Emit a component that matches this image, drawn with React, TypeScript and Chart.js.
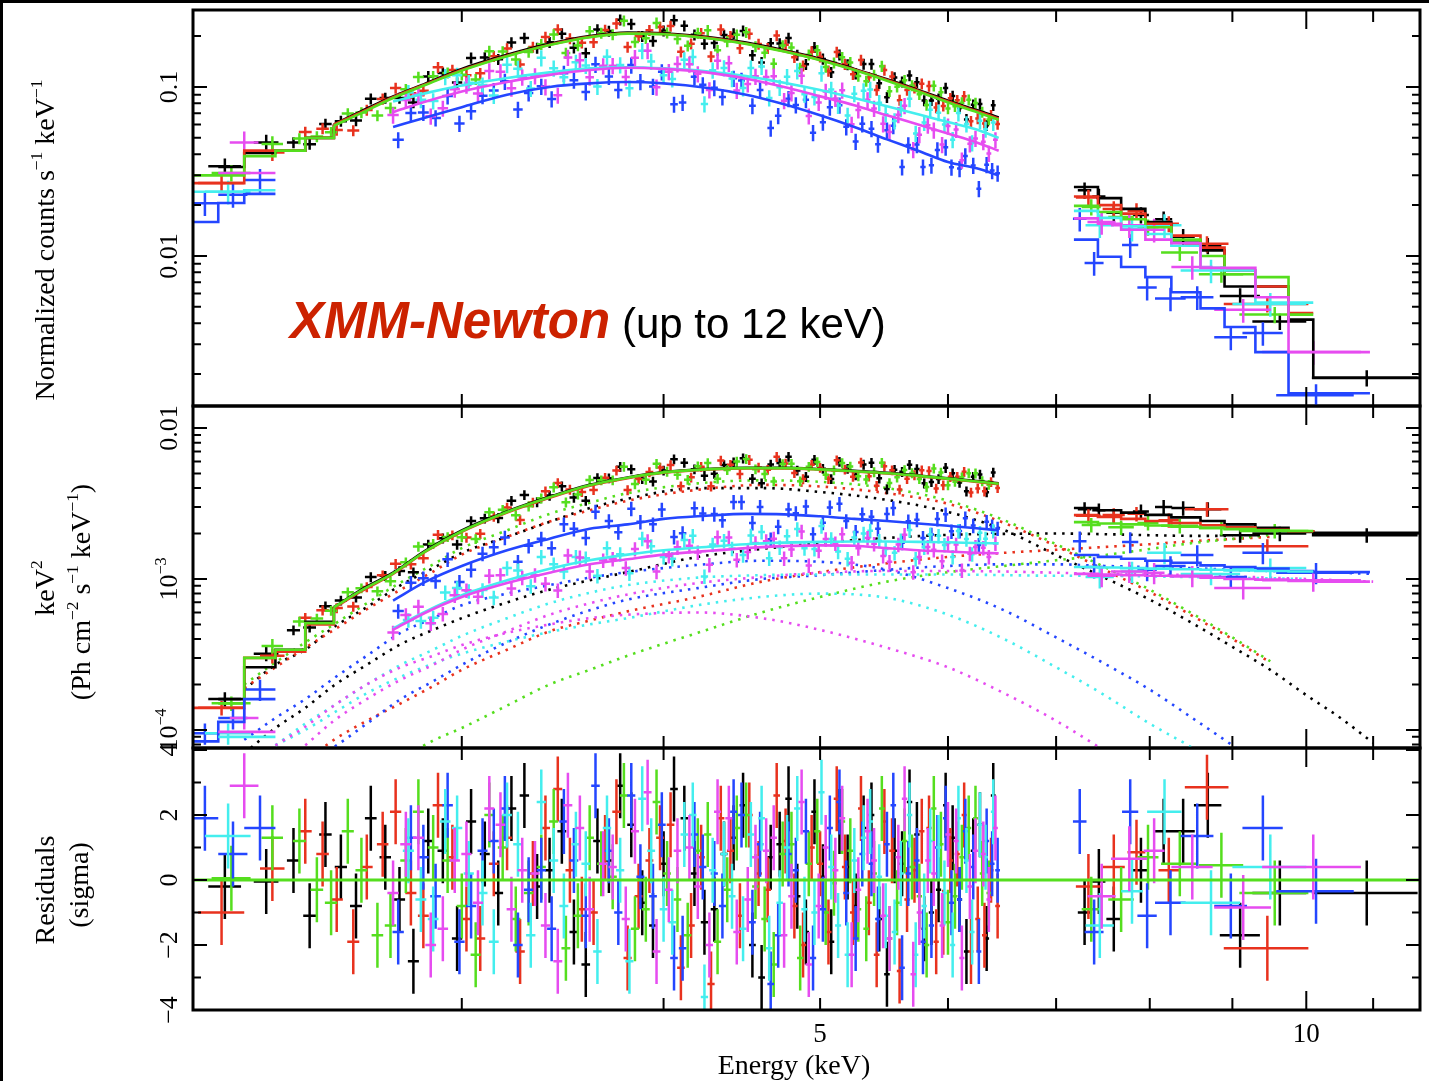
import React, { useEffect, useRef } from "react";
import { Chart, registerables } from "chart.js";

Chart.register(...registerables);

// ---------------- axis ranges / ticks ----------------
const X_MIN = 2.045;
const X_MAX = 11.76;
const X_TICKS_MINOR = [3, 4, 5, 6, 7, 8, 9, 11];
const X_TICKS_MAJOR = [10];
const X_TICK_LABELS = [5, 10];

const TOP_Y_MIN = 0.001295;
const TOP_Y_MAX = 0.2855;
const TOP_Y_MAJOR = [0.01, 0.1];
const TOP_Y_MINOR = [0.002, 0.003, 0.004, 0.005, 0.006, 0.007, 0.008, 0.009, 0.02, 0.03, 0.04, 0.05, 0.06, 0.07, 0.08, 0.09, 0.2];

const MID_Y_MIN = 7.59e-5;
const MID_Y_MAX = 0.01399;
const MID_Y_MAJOR = [1e-4, 1e-3, 1e-2];
const MID_Y_MINOR = [8e-5, 9e-5, 2e-4, 3e-4, 4e-4, 5e-4, 6e-4, 7e-4, 8e-4, 9e-4, 2e-3, 3e-3, 4e-3, 5e-3, 6e-3, 7e-3, 8e-3, 9e-3];

const RES_Y_MIN = -4;
const RES_Y_MAX = 4.06;
const RES_Y_MAJOR = [-4, -2, 0, 2, 4];
const RES_Y_MINOR = [-3, -1, 1, 3];

// ---------------- model grid (keV) ----------------
const MODEL_E = [2.04, 2.12, 2.2, 2.3, 2.4, 2.5, 2.6, 2.72, 2.85, 3.0, 3.2, 3.4, 3.6, 3.8, 4.0, 4.25, 4.5, 4.75, 5.0, 5.25, 5.5, 5.75, 6.0, 6.25, 6.45, 6.8, 7.18, 7.43, 7.68, 7.95, 8.25, 8.6, 8.9, 9.3, 9.75, 10.1, 10.95, 11.77];
const SMOOTH_FROM = 2.5;
const SMOOTH_TO = 6.45;

const BLACK_MODEL_COUNTS = [null, 0.0336, 0.0407, 0.042, 0.05, 0.06, 0.072, 0.088, 0.105, 0.128, 0.155, 0.18, 0.2, 0.21, 0.208, 0.198, 0.183, 0.165, 0.147, 0.128, 0.111, 0.096, 0.083, 0.073, 0.066, null, 0.0256, 0.022, 0.019, 0.0159, 0.0124, 0.0108, 0.0066, 0.0066, 0.0042, 0.0019, 0.0019, 0.0019];
const RED_MODEL_COUNTS = [0.027, 0.027, 0.042, 0.042, 0.05, 0.06, 0.071, 0.087, 0.104, 0.126, 0.153, 0.178, 0.198, 0.208, 0.206, 0.196, 0.181, 0.163, 0.145, 0.127, 0.11, 0.095, 0.082, 0.072, 0.065, null, 0.0225, 0.02, 0.0178, 0.0155, 0.0132, 0.0112, 0.0082, 0.0066, 0.0046, 0.0046, null, null];
const GREEN_MODEL_COUNTS = [0.03, 0.03, 0.039, 0.042, 0.05, 0.059, 0.07, 0.086, 0.103, 0.125, 0.152, 0.177, 0.197, 0.207, 0.205, 0.195, 0.18, 0.162, 0.144, 0.126, 0.109, 0.094, 0.081, 0.071, 0.064, null, 0.0198, 0.0182, 0.0165, 0.0148, 0.0125, 0.01, 0.0078, 0.0075, 0.0045, 0.0045, null, null];
const BLUE_MODEL_COUNTS = [0.0159, 0.0206, 0.0233, 0.0233, null, null, null, 0.058, 0.066, 0.076, 0.09, 0.1, 0.105, 0.107, 0.105, 0.099, 0.09, 0.079, 0.068, 0.058, 0.049, 0.042, 0.036, 0.033, 0.03, null, 0.0125, 0.0099, 0.0086, 0.0075, 0.0061, 0.0049, 0.0038, 0.0027, 0.00154, 0.00154, 0.00154, null];
const CYAN_MODEL_COUNTS = [0.024, 0.024, 0.0245, 0.0245, null, null, null, 0.082, 0.092, 0.102, 0.113, 0.122, 0.129, 0.131, 0.129, 0.124, 0.116, 0.106, 0.096, 0.086, 0.077, 0.069, 0.062, 0.056, 0.05, null, 0.0185, 0.0168, 0.015, 0.0135, 0.0115, 0.0085, 0.0082, 0.0053, 0.0053, 0.0053, null, null];
const MAGENTA_MODEL_COUNTS = [null, 0.031, 0.031, 0.031, null, null, null, 0.071, 0.082, 0.094, 0.107, 0.118, 0.126, 0.13, 0.128, 0.122, 0.112, 0.1, 0.088, 0.078, 0.068, 0.06, 0.053, 0.047, 0.042, null, 0.0167, 0.0155, 0.0143, 0.0125, 0.0119, 0.0085, 0.0085, 0.0057, 0.0027, 0.0027, 0.0027, null];

const BLACK_MODEL_UNFOLD = [null, 1.6e-4, 2.6e-4, 3.4e-4, 5.2e-4, 6.5e-4, 8.5e-4, 1.1e-3, 1.55e-3, 2.1e-3, 2.8e-3, 3.5e-3, 4.2e-3, 4.7e-3, 5.1e-3, 5.35e-3, 5.45e-3, 5.45e-3, 5.35e-3, 5.2e-3, 5.05e-3, 4.85e-3, 4.65e-3, 4.45e-3, 4.3e-3, null, 2.95e-3, 2.85e-3, 2.75e-3, 2.66e-3, 2.56e-3, 2.42e-3, 2.3e-3, 2.18e-3, 2.05e-3, 2.02e-3, 2.02e-3, 2.02e-3];
const RED_MODEL_UNFOLD = [1.4e-4, 1.4e-4, 3.0e-4, 3.3e-4, 5.0e-4, 6.4e-4, 8.3e-4, 1.08e-3, 1.52e-3, 2.05e-3, 2.75e-3, 3.45e-3, 4.15e-3, 4.65e-3, 5.05e-3, 5.3e-3, 5.4e-3, 5.4e-3, 5.3e-3, 5.15e-3, 5.0e-3, 4.8e-3, 4.6e-3, 4.4e-3, 4.25e-3, null, 2.65e-3, 2.58e-3, 2.5e-3, 2.42e-3, 2.35e-3, 2.27e-3, 2.2e-3, 2.12e-3, 2.07e-3, 2.05e-3, null, null];
const GREEN_MODEL_UNFOLD = [null, 1.5e-4, 3.0e-4, 3.4e-4, 5.1e-4, 6.5e-4, 8.4e-4, 1.09e-3, 1.53e-3, 2.07e-3, 2.78e-3, 3.48e-3, 4.18e-3, 4.68e-3, 5.08e-3, 5.32e-3, 5.42e-3, 5.42e-3, 5.32e-3, 5.17e-3, 5.02e-3, 4.82e-3, 4.62e-3, 4.42e-3, 4.27e-3, null, 2.38e-3, 2.33e-3, 2.3e-3, 2.26e-3, 2.22e-3, 2.18e-3, 2.14e-3, 2.1e-3, 2.08e-3, 2.08e-3, null, null];
const BLUE_MODEL_UNFOLD = [8.4e-5, 1.13e-4, 1.6e-4, 1.6e-4, null, null, null, 7.2e-4, 9.6e-4, 1.22e-3, 1.55e-3, 1.85e-3, 2.15e-3, 2.3e-3, 2.5e-3, 2.62e-3, 2.7e-3, 2.68e-3, 2.6e-3, 2.5e-3, 2.42e-3, 2.33e-3, 2.25e-3, 2.17e-3, 2.1e-3, null, 1.44e-3, 1.4e-3, 1.36e-3, 1.32e-3, 1.28e-3, 1.23e-3, 1.2e-3, 1.17e-3, 1.13e-3, 1.11e-3, 1.11e-3, null];
const CYAN_MODEL_UNFOLD = [null, 9e-5, 9e-5, 9e-5, null, null, null, 4.7e-4, 6.1e-4, 7.8e-4, 9.8e-4, 1.17e-3, 1.33e-3, 1.45e-3, 1.55e-3, 1.63e-3, 1.7e-3, 1.74e-3, 1.76e-3, 1.77e-3, 1.77e-3, 1.76e-3, 1.75e-3, 1.73e-3, 1.72e-3, null, 1.2e-3, 1.19e-3, 1.18e-3, 1.17e-3, 1.16e-3, 1.15e-3, 1.14e-3, 1.13e-3, 1.12e-3, 1.12e-3, null, null];
const MAGENTA_MODEL_UNFOLD = [null, 9.7e-5, 9.7e-5, 9.7e-5, null, null, null, 4.6e-4, 6.0e-4, 7.6e-4, 9.4e-4, 1.1e-3, 1.25e-3, 1.35e-3, 1.45e-3, 1.53e-3, 1.6e-3, 1.65e-3, 1.67e-3, 1.66e-3, 1.6e-3, 1.55e-3, 1.52e-3, 1.49e-3, 1.48e-3, null, 1.08e-3, 1.07e-3, 1.06e-3, 1.05e-3, 1.04e-3, 1.02e-3, 1.0e-3, 9.9e-4, 9.7e-4, 9.6e-4, 9.6e-4, null];

// ---------------- model components (dotted) ----------------
const COMP_E = [2.2, 2.3, 2.4, 2.5, 2.62, 2.75, 2.88, 3.0, 3.2, 3.4, 3.6, 3.8, 4.2, 4.6, 5.0, 5.5, 6.0, 6.5, 7.0, 7.5, 8.0, 8.5, 9.0, 9.5, 10.0, 10.5, 11.0];
const BLACK_SOFT = [1.85e-4, 2.7e-4, 3.4e-4, 4.8e-4, 6.5e-4, 9.1e-4, 1.18e-3, 1.49e-3, 1.9e-3, 2.39e-3, 2.95e-3, 3.4e-3, 4.0e-3, 4.0e-3, 3.77e-3, 3.34e-3, 2.78e-3, 2.11e-3, 1.44e-3, 1.02e-3, 7.3e-4, 5.1e-4, 3.55e-4, 2.5e-4, 1.7e-4, 1.2e-4, 8.2e-5];
const BLACK_HARD = [7e-5, 1.03e-4, 1.4e-4, 1.97e-4, 2.7e-4, 3.7e-4, 4.6e-4, 5.5e-4, 7.0e-4, 8.5e-4, 9.8e-4, 1.11e-3, 1.4e-3, 1.58e-3, 1.73e-3, 1.87e-3, 1.96e-3, 1.99e-3, 2.0e-3, 1.98e-3, 1.95e-3, 1.93e-3, 1.93e-3, null, null, null, null];
const RED_SOFT = [1.9e-4, 2.6e-4, 3.5e-4, 4.6e-4, 6.3e-4, 8.5e-4, 1.12e-3, 1.45e-3, 1.9e-3, 2.4e-3, 2.85e-3, 3.3e-3, 3.9e-3, 4.2e-3, 4.1e-3, 3.7e-3, 3.15e-3, 2.35e-3, 1.65e-3, 1.15e-3, 8.2e-4, 5.7e-4, 4.0e-4, 2.8e-4, null, null, null];
const RED_HARD = [null, null, 6.2e-5, 8.6e-5, 1.15e-4, 1.5e-4, 1.95e-4, 2.5e-4, 3.4e-4, 4.5e-4, 5.3e-4, 6.1e-4, 7.6e-4, 9.6e-4, 1.11e-3, 1.27e-3, 1.4e-3, 1.49e-3, 1.56e-3, 1.63e-3, 1.7e-3, 1.78e-3, 1.84e-3, 1.9e-3, null, null, null];
const GREEN_SOFT = [2.0e-4, 2.8e-4, 3.8e-4, 5.0e-4, 6.9e-4, 9.5e-4, 1.25e-3, 1.6e-3, 2.1e-3, 2.7e-3, 3.2e-3, 3.7e-3, 4.3e-3, 4.5e-3, 4.4e-3, 4.0e-3, 3.3e-3, 2.45e-3, 1.7e-3, 1.2e-3, 8.5e-4, 5.9e-4, 4.1e-4, 2.85e-4, null, null, null];
const GREEN_HARD = [null, null, null, null, null, 6.5e-5, 8.5e-5, 1.03e-4, 1.45e-4, 2.0e-4, 2.5e-4, 3.1e-4, 4.4e-4, 6.0e-4, 7.6e-4, 9.6e-4, 1.11e-3, 1.22e-3, 1.33e-3, 1.44e-3, 1.58e-3, 1.73e-3, 1.84e-3, 1.96e-3, null, null, null];
const BLUE_SOFT = [8.6e-5, 1.2e-4, 1.6e-4, 2.2e-4, 3.1e-4, 4.4e-4, 5.5e-4, 6.7e-4, 8.0e-4, 9.1e-4, 1.02e-3, 1.11e-3, 1.24e-3, 1.32e-3, 1.3e-3, 1.15e-3, 8.7e-4, 6.2e-4, 4.1e-4, 2.75e-4, 1.85e-4, 1.2e-4, 7.9e-5, 5.2e-5, null, null, null];
const BLUE_HARD = [null, null, 6e-5, 7.7e-5, 1.1e-4, 1.6e-4, 2.1e-4, 2.7e-4, 3.8e-4, 5.0e-4, 6.2e-4, 7.3e-4, 8.7e-4, 1.0e-3, 1.06e-3, 1.15e-3, 1.22e-3, 1.25e-3, 1.25e-3, 1.22e-3, 1.2e-3, 1.18e-3, 1.15e-3, 1.13e-3, 1.11e-3, 1.1e-3, 1.08e-3];
const CYAN_SOFT = [null, 7.9e-5, 1.0e-4, 1.3e-4, 1.75e-4, 2.25e-4, 2.75e-4, 3.2e-4, 3.85e-4, 4.45e-4, 5.0e-4, 5.5e-4, 6.7e-4, 7.6e-4, 8.0e-4, 7.5e-4, 5.8e-4, 4.0e-4, 2.6e-4, 1.7e-4, 1.1e-4, 7.6e-5, 5.0e-5, null, null, null, null];
const CYAN_HARD = [null, 7.9e-5, 1.1e-4, 1.45e-4, 2.0e-4, 2.7e-4, 3.4e-4, 4.2e-4, 5.5e-4, 6.9e-4, 8.1e-4, 9.1e-4, 1.02e-3, 1.06e-3, 1.07e-3, 1.07e-3, 1.07e-3, 1.06e-3, 1.05e-3, 1.05e-3, 1.04e-3, 1.03e-3, 1.02e-3, 1.01e-3, 1.0e-3, null, null];
const MAGENTA_SOFT = [null, 7.9e-5, 1.05e-4, 1.45e-4, 2.0e-4, 2.6e-4, 3.1e-4, 3.65e-4, 4.4e-4, 5.0e-4, 5.5e-4, 5.8e-4, 6.0e-4, 5.5e-4, 4.6e-4, 3.5e-4, 2.6e-4, 1.75e-4, 1.15e-4, 7.3e-5, null, null, null, null, null, null, null];
const MAGENTA_HARD = [null, null, 7.9e-5, 1.15e-4, 1.6e-4, 2.15e-4, 2.7e-4, 3.4e-4, 4.5e-4, 5.8e-4, 6.9e-4, 7.9e-4, 9.4e-4, 1.03e-3, 1.1e-3, 1.13e-3, 1.13e-3, 1.12e-3, 1.1e-3, 1.08e-3, 1.07e-3, 1.06e-3, 1.04e-3, 1.02e-3, 1.0e-3, 9.8e-4, 9.6e-4];

// ---------------- data: narrow bins, set A ----------------
const MAIN_HW = 0.022;
const ERR_BRIGHT = 0.075;
const ERR_BRIGHT_WIDE = 0.11;
const ERR_FAINT = 0.11;
const ERR_FAINT_WIDE = 0.16;

const BLACK_E = [2.36, 2.47, 2.58, 2.69, 2.80, 2.92, 3.04, 3.16, 3.28, 3.40, 3.52, 3.64, 3.76, 3.88, 4.00, 4.12, 4.24, 4.36, 4.48, 4.60, 4.72, 4.84, 4.96, 5.08, 5.20, 5.32, 5.44, 5.56, 5.68, 5.80, 5.92, 6.04, 6.16, 6.28, 6.40];
const BLACK_COUNTS = [0.0469, 0.0604, 0.0633, 0.086, 0.0809, 0.1212, 0.1486, 0.1458, 0.195, 0.1838, 0.1705, 0.219, 0.25, 0.1997, 0.2153, 0.23, 0.18, 0.2028, 0.2148, 0.1398, 0.181, 0.1544, 0.172, 0.1222, 0.1357, 0.1368, 0.1053, 0.1137, 0.1168, 0.0832, 0.0852, 0.0884, 0.0643, 0.0794, 0.078];
const BLACK_UNFOLD = [4.58e-4, 6.59e-4, 7.55e-4, 1.05e-3, 1.11e-3, 1.86e-3, 2.42e-3, 2.53e-3, 3.6e-3, 3.57e-3, 3.46e-3, 4.66e-3, 5.53e-3, 4.61e-3, 5.23e-3, 5.89e-3, 4.82e-3, 5.68e-3, 6.3e-3, 4.31e-3, 5.87e-3, 5.23e-3, 6.16e-3, 4.6e-3, 5.38e-3, 5.73e-3, 4.64e-3, 5.29e-3, 5.71e-3, 4.3e-3, 4.6e-3, 5.02e-3, 3.81e-3, 4.92e-3, 5.08e-3];
const BLACK_RESID = [0.6, 1.4, -0.8, 0.7, -2.5, 0.9, 1.8, -0.4, 2.6, 0.3, -1.6, 1.2, 2.9, -0.7, 0.5, 1.9, -1.3, 0.8, 2.3, -3.0, 1.1, -0.5, 2.1, -1.9, 0.4, 1.6, -1.2, 0.9, 2.4, -1.5, -0.3, 1.3, -2.2, 1.7, 2.6];

const RED_E = [2.40, 2.51, 2.62, 2.73, 2.84, 2.96, 3.08, 3.20, 3.32, 3.44, 3.56, 3.68, 3.80, 3.92, 4.04, 4.16, 4.28, 4.40, 4.52, 4.64, 4.76, 4.88, 5.00, 5.12, 5.24, 5.36, 5.48, 5.60, 5.72, 5.84, 5.96, 6.08, 6.20, 6.32, 6.44];
const RED_COUNTS = [0.0541, 0.0556, 0.073, 0.0986, 0.0951, 0.1259, 0.1206, 0.1691, 0.1724, 0.2189, 0.1827, 0.2172, 0.1722, 0.2167, 0.2294, 0.1804, 0.1513, 0.1998, 0.2063, 0.1694, 0.1778, 0.1333, 0.1511, 0.161, 0.119, 0.1141, 0.1261, 0.0836, 0.099, 0.1012, 0.0773, 0.0834, 0.0626, 0.0608, 0.0604];
const RED_UNFOLD = [5.53e-4, 6.42e-4, 8.84e-4, 1.26e-3, 1.37e-3, 1.95e-3, 1.99e-3, 2.97e-3, 3.21e-3, 4.33e-3, 3.77e-3, 4.69e-3, 3.88e-3, 5.11e-3, 5.68e-3, 4.71e-3, 4.11e-3, 5.71e-3, 6.16e-3, 5.29e-3, 5.83e-3, 4.59e-3, 5.46e-3, 6.11e-3, 4.76e-3, 4.79e-3, 5.58e-3, 3.92e-3, 4.88e-3, 5.2e-3, 4.18e-3, 4.75e-3, 3.74e-3, 3.81e-3, 4.01e-3];
const RED_RESID = [1.5, -0.6, 0.4, 2.1, -1.1, 0.7, -1.8, 1.3, 0.2, 2.8, -0.9, 1.0, -2.4, 0.6, 1.7, -1.4, -3.2, 0.9, 2.0, -0.3, 1.2, -2.0, 0.5, 2.5, -1.0, -0.7, 1.8, -2.8, 0.3, 1.6, -1.3, 0.8, -2.2, -1.7, -0.8];

const GREEN_E = [2.44, 2.55, 2.66, 2.77, 2.88, 3.00, 3.12, 3.24, 3.36, 3.48, 3.60, 3.72, 3.84, 3.96, 4.08, 4.20, 4.32, 4.44, 4.56, 4.68, 4.80, 4.92, 5.04, 5.16, 5.28, 5.40, 5.52, 5.64, 5.76, 5.88, 6.00, 6.12, 6.24, 6.36];
const GREEN_COUNTS = [0.0509, 0.0696, 0.0678, 0.0969, 0.1156, 0.118, 0.163, 0.1456, 0.1789, 0.1587, 0.2138, 0.2044, 0.1844, 0.2394, 0.1926, 0.2083, 0.1647, 0.2035, 0.1735, 0.1374, 0.1712, 0.1553, 0.1311, 0.1498, 0.1162, 0.1176, 0.0944, 0.1095, 0.0907, 0.1016, 0.0745, 0.0808, 0.0804, 0.0642];
const GREEN_UNFOLD = [5.48e-4, 8.18e-4, 8.28e-4, 1.29e-3, 1.71e-3, 1.89e-3, 2.77e-3, 2.64e-3, 3.42e-3, 3.22e-3, 4.53e-3, 4.51e-3, 4.25e-3, 5.8e-3, 4.91e-3, 5.58e-3, 4.62e-3, 5.99e-3, 5.34e-3, 4.43e-3, 5.8e-3, 5.54e-3, 4.91e-3, 5.86e-3, 4.8e-3, 5.11e-3, 4.33e-3, 5.27e-3, 4.6e-3, 5.4e-3, 4.18e-3, 4.72e-3, 5.01e-3, 4.21e-3];
const GREEN_RESID = [-0.3, 1.5, -1.7, 0.6, 1.0, -0.8, 2.0, -1.2, 0.4, -2.1, 1.3, 0.1, -1.5, 2.4, -0.6, 0.9, -1.9, 1.6, -0.2, -2.6, 1.1, 0.5, -1.0, 1.8, -0.9, 0.2, -1.8, 1.2, -0.5, 2.2, -1.3, 0.7, 1.9, -0.4];

const BLUE_E = [2.74, 2.84, 2.94, 3.04, 3.14, 3.25, 3.36, 3.47, 3.58, 3.70, 3.82, 3.94, 4.06, 4.18, 4.30, 4.42, 4.54, 4.66, 4.78, 4.90, 5.02, 5.14, 5.26, 5.38, 5.50, 5.62, 5.74, 5.86, 5.98, 6.10, 6.22, 6.34, 6.44];
const BLUE_COUNTS = [0.0487, 0.0706, 0.0886, 0.0718, 0.0952, 0.0736, 0.1009, 0.1204, 0.0935, 0.1155, 0.1348, 0.1007, 0.079, 0.1151, 0.0989, 0.1125, 0.0774, 0.0571, 0.0853, 0.084, 0.0619, 0.0781, 0.0476, 0.0567, 0.0555, 0.0336, 0.0456, 0.0344, 0.044, 0.0329, 0.0343, 0.0347, 0.0309];
const BLUE_UNFOLD = [6.13e-4, 1.01e-3, 1.35e-3, 1.15e-3, 1.62e-3, 1.3e-3, 1.85e-3, 2.3e-3, 1.87e-3, 2.42e-3, 2.92e-3, 2.3e-3, 1.9e-3, 2.94e-3, 2.69e-3, 3.24e-3, 2.35e-3, 1.83e-3, 2.88e-3, 3.02e-3, 2.36e-3, 3.15e-3, 2.05e-3, 2.58e-3, 2.69e-3, 1.74e-3, 2.47e-3, 1.97e-3, 2.68e-3, 2.08e-3, 2.26e-3, 2.39e-3, 2.16e-3];
const BLUE_RESID = [-1.6, 0.7, 2.3, -0.8, 1.2, -2.0, 0.3, 1.8, -1.1, 0.9, 2.6, -0.5, -2.4, 1.4, 0.2, 2.1, -1.3, -3.2, 0.8, 1.5, -0.9, 2.4, -1.8, 0.5, 1.1, -2.7, 0.6, -1.4, 1.9, -0.6, 0.4, 1.2, 0.3];

const CYAN_E = [2.78, 2.88, 2.98, 3.09, 3.20, 3.31, 3.42, 3.53, 3.64, 3.76, 3.88, 4.00, 4.12, 4.24, 4.36, 4.48, 4.60, 4.72, 4.84, 4.96, 5.08, 5.20, 5.32, 5.44, 5.56, 5.68, 5.80, 5.92, 6.04, 6.16, 6.28, 6.40];
const CYAN_COUNTS = [0.0927, 0.0827, 0.1172, 0.1027, 0.1356, 0.0979, 0.1293, 0.1399, 0.1006, 0.1349, 0.1638, 0.1174, 0.1448, 0.0794, 0.1296, 0.0986, 0.1321, 0.0995, 0.1244, 0.0873, 0.0967, 0.0678, 0.0949, 0.0808, 0.063, 0.0852, 0.0616, 0.0704, 0.0488, 0.0604, 0.0632, 0.0617];
const CYAN_UNFOLD = [5.34e-4, 5.54e-4, 8.7e-4, 8.45e-4, 1.18e-3, 8.96e-4, 1.25e-3, 1.4e-3, 1.05e-3, 1.46e-3, 1.85e-3, 1.4e-3, 1.81e-3, 1.04e-3, 1.79e-3, 1.44e-3, 2.05e-3, 1.62e-3, 2.14e-3, 1.58e-3, 1.84e-3, 1.36e-3, 2.0e-3, 1.79e-3, 1.49e-3, 2.11e-3, 1.62e-3, 1.93e-3, 1.4e-3, 1.84e-3, 2.02e-3, 2.08e-3];
const CYAN_RESID = [0.9, -1.2, 1.6, -0.4, 2.0, -1.7, 0.6, 1.1, -2.2, 0.3, 2.5, -0.9, 1.4, -3.6, 0.8, -1.5, 1.9, -0.7, 2.2, -1.0, 0.4, -2.3, 1.3, 0.1, -1.6, 2.0, -0.8, 1.0, -2.0, 0.6, 1.7, 2.1];

const MAGENTA_E = [2.72, 2.82, 2.92, 3.02, 3.12, 3.22, 3.33, 3.44, 3.55, 3.67, 3.79, 3.91, 4.03, 4.15, 4.27, 4.39, 4.51, 4.63, 4.75, 4.87, 4.99, 5.11, 5.23, 5.35, 5.47, 5.59, 5.71, 5.83, 5.95, 6.07, 6.19, 6.31, 6.42];
const MAGENTA_COUNTS = [0.0682, 0.0904, 0.0748, 0.1026, 0.1244, 0.0983, 0.1163, 0.0893, 0.1438, 0.1334, 0.1144, 0.1638, 0.1232, 0.1364, 0.096, 0.138, 0.1043, 0.1145, 0.083, 0.1166, 0.081, 0.0855, 0.0601, 0.084, 0.0605, 0.0685, 0.0426, 0.0594, 0.0456, 0.056, 0.0461, 0.0475, 0.0487];
const MAGENTA_UNFOLD = [4.42e-4, 6.55e-4, 5.87e-4, 8.42e-4, 1.05e-3, 8.65e-4, 1.06e-3, 8.4e-4, 1.39e-3, 1.33e-3, 1.18e-3, 1.78e-3, 1.42e-3, 1.66e-3, 1.24e-3, 1.88e-3, 1.51e-3, 1.78e-3, 1.37e-3, 2.06e-3, 1.54e-3, 1.72e-3, 1.28e-3, 1.87e-3, 1.42e-3, 1.69e-3, 1.11e-3, 1.63e-3, 1.31e-3, 1.69e-3, 1.47e-3, 1.61e-3, 1.72e-3];
const MAGENTA_RESID = [-0.4, 1.3, -1.5, 0.8, 2.2, -0.9, 0.2, -2.5, 1.6, 0.5, -1.2, 2.7, -0.3, 1.0, -2.0, 1.9, -0.6, 0.9, -1.7, 2.4, -0.8, 0.3, -2.3, 1.5, -1.1, 0.7, -2.9, 0.6, -1.4, 1.2, -0.2, 0.8, 1.6];

// ---------------- data: narrow bins, set B (interleaved bins) ----------------
const BLACK_E2 = [2.415, 2.525, 2.635, 2.745, 2.86, 2.98, 3.10, 3.22, 3.34, 3.46, 3.58, 3.70, 3.82, 3.94, 4.06, 4.18, 4.30, 4.42, 4.54, 4.66, 4.78, 4.90, 5.02, 5.14, 5.26, 5.38, 5.50, 5.62, 5.74, 5.86, 5.98, 6.10, 6.22, 6.34];
const BLACK_COUNTS2 = [0.0459, 0.0628, 0.0851, 0.086, 0.1155, 0.1064, 0.1495, 0.1835, 0.1699, 0.2069, 0.1586, 0.2142, 0.2356, 0.1871, 0.2487, 0.2035, 0.1818, 0.2069, 0.1539, 0.1816, 0.1948, 0.1364, 0.1466, 0.1549, 0.1199, 0.1369, 0.0869, 0.1074, 0.1066, 0.0833, 0.0985, 0.075, 0.0785, 0.0593];
const BLACK_UNFOLD2 = [4.77e-4, 7.21e-4, 1.03e-3, 1.13e-3, 1.69e-3, 1.69e-3, 2.52e-3, 3.3e-3, 3.23e-3, 4.12e-3, 3.3e-3, 4.65e-3, 5.33e-3, 4.43e-3, 6.21e-3, 5.33e-3, 4.98e-3, 5.94e-3, 4.62e-3, 5.74e-3, 6.46e-3, 4.75e-3, 5.38e-3, 5.98e-3, 4.88e-3, 5.88e-3, 3.94e-3, 5.13e-3, 5.36e-3, 4.39e-3, 5.45e-3, 4.35e-3, 4.75e-3, 3.76e-3];
const BLACK_RESID2 = [-1.1, 0.4, 1.9, -0.6, 1.2, -1.8, 0.8, 2.2, -0.2, 1.5, -2.6, 0.6, 1.7, -1.4, 2.8, 0.2, -0.9, 1.3, -2.0, 0.7, 2.5, -1.6, 0.1, 1.8, -0.8, 2.0, -2.9, 0.5, 1.4, -1.0, 2.3, -0.6, 0.9, -1.8];

const RED_E2 = [2.46, 2.57, 2.68, 2.79, 2.90, 3.02, 3.14, 3.26, 3.38, 3.50, 3.62, 3.74, 3.86, 3.98, 4.10, 4.22, 4.34, 4.46, 4.58, 4.70, 4.82, 4.94, 5.06, 5.18, 5.30, 5.42, 5.54, 5.66, 5.78, 5.90, 6.02, 6.14, 6.26, 6.38];
const RED_COUNTS2 = [0.0567, 0.0553, 0.085, 0.0917, 0.1307, 0.1174, 0.152, 0.1357, 0.1977, 0.1933, 0.1841, 0.2373, 0.1997, 0.2266, 0.1615, 0.2079, 0.2188, 0.1693, 0.1797, 0.2014, 0.1499, 0.1618, 0.1245, 0.1365, 0.1445, 0.096, 0.1153, 0.096, 0.1046, 0.0755, 0.0857, 0.088, 0.0651, 0.068];
const RED_UNFOLD2 = [6.2e-4, 6.56e-4, 1.06e-3, 1.25e-3, 1.96e-3, 1.88e-3, 2.59e-3, 2.46e-3, 3.81e-3, 3.91e-3, 3.89e-3, 5.23e-3, 4.6e-3, 5.48e-3, 4.11e-3, 5.54e-3, 6.1e-3, 4.95e-3, 5.48e-3, 6.44e-3, 5.04e-3, 5.71e-3, 4.61e-3, 5.31e-3, 5.92e-3, 4.14e-3, 5.25e-3, 4.61e-3, 5.26e-3, 3.98e-3, 4.75e-3, 5.13e-3, 3.98e-3, 4.39e-3];
const RED_RESID2 = [0.8, -1.9, 1.1, -0.4, 2.3, -1.2, 0.5, -2.2, 1.6, 0.3, -1.0, 2.1, -0.5, 1.3, -2.7, 0.7, 1.9, -1.1, 0.2, 2.6, -0.8, 1.0, -1.6, 0.4, 2.2, -2.3, 0.9, -0.6, 1.5, -1.9, 0.6, 2.0, -1.2, 0.3];

const GREEN_E2 = [2.38, 2.49, 2.60, 2.71, 2.82, 2.94, 3.06, 3.18, 3.30, 3.42, 3.54, 3.66, 3.78, 3.90, 4.02, 4.14, 4.26, 4.38, 4.50, 4.62, 4.74, 4.86, 4.98, 5.10, 5.22, 5.34, 5.46, 5.58, 5.70, 5.82, 5.94, 6.06, 6.18, 6.30];
const GREEN_COUNTS2 = [0.0496, 0.054, 0.0706, 0.0752, 0.1146, 0.1212, 0.1109, 0.1623, 0.161, 0.2043, 0.1762, 0.2085, 0.2462, 0.194, 0.2091, 0.1754, 0.2166, 0.1857, 0.2105, 0.1593, 0.176, 0.1296, 0.1647, 0.139, 0.1398, 0.1083, 0.1328, 0.1004, 0.102, 0.0782, 0.0931, 0.077, 0.084, 0.0711];
const GREEN_UNFOLD2 = [5.23e-4, 6.16e-4, 8.69e-4, 9.67e-4, 1.64e-3, 1.9e-3, 1.84e-3, 2.87e-3, 3.03e-3, 4.05e-3, 3.63e-3, 4.51e-3, 5.54e-3, 4.55e-3, 5.15e-3, 4.55e-3, 5.87e-3, 5.27e-3, 6.24e-3, 4.96e-3, 5.77e-3, 4.44e-3, 5.96e-3, 5.25e-3, 5.57e-3, 4.56e-3, 5.89e-3, 4.71e-3, 5.03e-3, 4.06e-3, 5.07e-3, 4.41e-3, 5.02e-3, 4.45e-3];
const GREEN_RESID2 = [1.2, -0.7, 0.3, -1.4, 2.1, 0.6, -2.3, 1.0, -0.4, 1.8, -1.1, 0.5, 2.6, -0.9, 0.2, -1.7, 1.4, -0.3, 2.0, -1.2, 0.8, -2.4, 1.5, -0.1, 0.9, -1.5, 2.2, -0.7, 0.4, -2.0, 1.1, -0.5, 1.6, 0.2];

const BLUE_E2 = [2.79, 2.89, 2.99, 3.09, 3.19, 3.30, 3.41, 3.52, 3.63, 3.75, 3.87, 3.99, 4.11, 4.23, 4.35, 4.47, 4.59, 4.71, 4.83, 4.95, 5.07, 5.19, 5.31, 5.43, 5.55, 5.67, 5.79, 5.91, 6.03, 6.15, 6.27, 6.39];
const BLUE_COUNTS2 = [0.0701, 0.0656, 0.0608, 0.0888, 0.108, 0.0922, 0.085, 0.1097, 0.1361, 0.0959, 0.1076, 0.1229, 0.081, 0.103, 0.0874, 0.1092, 0.096, 0.0676, 0.0783, 0.0536, 0.076, 0.0581, 0.0605, 0.0458, 0.059, 0.0454, 0.0336, 0.0424, 0.0335, 0.0391, 0.025, 0.032];
const BLUE_UNFOLD2 = [9.44e-4, 9.69e-4, 9.56e-4, 1.47e-3, 1.88e-3, 1.66e-3, 1.6e-3, 2.15e-3, 2.79e-3, 2.04e-3, 2.39e-3, 2.88e-3, 2.01e-3, 2.71e-3, 2.45e-3, 3.23e-3, 3.0e-3, 2.22e-3, 2.73e-3, 1.98e-3, 2.98e-3, 2.42e-3, 2.68e-3, 2.15e-3, 2.95e-3, 2.41e-3, 1.87e-3, 2.5e-3, 2.07e-3, 2.52e-3, 1.68e-3, 2.23e-3];
const BLUE_RESID2 = [1.3, -0.5, -1.9, 0.9, 2.2, -0.3, -1.5, 0.6, 2.9, -1.0, 0.1, 1.7, -2.1, 0.4, -0.8, 2.0, 1.1, -1.7, 0.3, -2.4, 1.6, -0.4, 0.8, -1.2, 2.3, 0.2, -1.9, 1.0, -0.7, 1.5, -2.2, 0.5];

const CYAN_E2 = [2.83, 2.93, 3.03, 3.14, 3.25, 3.36, 3.47, 3.58, 3.69, 3.81, 3.93, 4.05, 4.17, 4.29, 4.41, 4.53, 4.65, 4.77, 4.89, 5.01, 5.13, 5.25, 5.37, 5.49, 5.61, 5.73, 5.85, 5.97, 6.09, 6.21, 6.33];
const CYAN_COUNTS2 = [0.0841, 0.1151, 0.1061, 0.0891, 0.1282, 0.1488, 0.1141, 0.1339, 0.1508, 0.0983, 0.1417, 0.1114, 0.1506, 0.1257, 0.1121, 0.1294, 0.0861, 0.115, 0.0905, 0.1207, 0.0778, 0.0912, 0.0968, 0.069, 0.0745, 0.0531, 0.0734, 0.06, 0.0702, 0.0466, 0.0562];
const CYAN_UNFOLD2 = [5.26e-4, 8.14e-4, 8.31e-4, 7.53e-4, 1.14e-3, 1.4e-3, 1.12e-3, 1.37e-3, 1.6e-3, 1.09e-3, 1.65e-3, 1.36e-3, 1.93e-3, 1.69e-3, 1.59e-3, 1.94e-3, 1.37e-3, 1.92e-3, 1.6e-3, 2.24e-3, 1.52e-3, 1.88e-3, 2.09e-3, 1.58e-3, 1.8e-3, 1.36e-3, 1.97e-3, 1.68e-3, 2.08e-3, 1.46e-3, 1.85e-3];
const CYAN_RESID2 = [-0.6, 1.8, 0.2, -1.9, 1.1, 2.4, -0.8, 0.5, 1.6, -2.5, 0.9, -1.3, 2.0, 0.3, -0.5, 1.4, -2.1, 1.0, -0.9, 2.7, -1.4, 0.6, 1.8, -1.1, 0.2, -2.3, 1.2, -0.4, 1.9, -1.6, 0.7];

const MAGENTA_E2 = [2.77, 2.87, 2.97, 3.07, 3.17, 3.27, 3.38, 3.49, 3.60, 3.72, 3.84, 3.96, 4.08, 4.20, 4.32, 4.44, 4.56, 4.68, 4.80, 4.92, 5.04, 5.16, 5.28, 5.40, 5.52, 5.64, 5.76, 5.88, 6.00, 6.12, 6.24, 6.36];
const MAGENTA_COUNTS2 = [0.0838, 0.0672, 0.097, 0.0916, 0.1229, 0.1143, 0.1002, 0.1494, 0.1142, 0.1336, 0.1489, 0.0998, 0.1368, 0.1196, 0.1428, 0.0953, 0.1156, 0.1158, 0.0922, 0.0673, 0.0941, 0.0958, 0.0732, 0.0747, 0.0541, 0.0775, 0.0522, 0.0556, 0.0587, 0.0369, 0.0496, 0.0404];
const MAGENTA_UNFOLD2 = [5.77e-4, 5.08e-4, 7.79e-4, 7.63e-4, 1.06e-3, 1.02e-3, 9.29e-4, 1.43e-3, 1.12e-3, 1.36e-3, 1.58e-3, 1.12e-3, 1.62e-3, 1.5e-3, 1.89e-3, 1.34e-3, 1.73e-3, 1.85e-3, 1.57e-3, 1.23e-3, 1.84e-3, 1.98e-3, 1.6e-3, 1.71e-3, 1.3e-3, 1.96e-3, 1.4e-3, 1.56e-3, 1.73e-3, 1.14e-3, 1.63e-3, 1.4e-3];
const MAGENTA_RESID2 = [1.1, -2.0, 0.6, -0.7, 1.7, 0.3, -1.4, 2.3, -0.9, 0.4, 1.5, -2.2, 0.9, -0.2, 2.1, -1.6, 0.7, 1.3, -0.5, -2.6, 1.0, 1.9, -0.3, 0.6, -1.8, 2.5, -1.0, 0.2, 1.4, -2.4, 0.9, -0.6];

// ---------------- data: wide bins (low-energy and 7-12 keV) ----------------
const BLACK_WIDE_E = [2.14, 2.27, 7.29, 7.44, 7.60, 7.90, 8.16, 8.39, 8.69, 9.10, 9.63, 10.9];
const BLACK_WIDE_HW = [0.05, 0.04, 0.07, 0.07, 0.08, 0.09, 0.1, 0.14, 0.17, 0.26, 0.37, 0.82];
const BLACK_WIDE_COUNTS = [0.034, 0.047, 0.0245, 0.0225, 0.018, 0.0175, 0.0165, 0.013, 0.0115, 0.0058, 0.0041, 0.0019];
const BLACK_WIDE_UNFOLD = [1.6e-4, 3.2e-4, 2.9e-3, 2.85e-3, 2.6e-3, 2.8e-3, 3.0e-3, 2.95e-3, 2.9e-3, 1.95e-3, 2.0e-3, 1.95e-3];
const BLACK_WIDE_RESID = [-0.2, -0.05, -1.0, -0.05, -1.2, 0.3, 1.5, 1.5, 2.3, -1.7, -0.4, -0.4];

const RED_WIDE_E = [2.13, 2.29, 7.33, 7.60, 7.85, 8.22, 8.68, 9.46];
const RED_WIDE_HW = [0.07, 0.04, 0.13, 0.12, 0.1, 0.12, 0.27, 0.57];
const RED_WIDE_COUNTS = [0.027, 0.041, 0.0222, 0.019, 0.0185, 0.0155, 0.0118, 0.0052];
const RED_WIDE_UNFOLD = [1.4e-4, 3.1e-4, 2.62e-3, 2.65e-3, 2.7e-3, 2.45e-3, 2.9e-3, 1.65e-3];
const RED_WIDE_RESID = [-1.0, 0.35, -0.2, 0.4, 0.85, 0.3, 2.85, -2.1];

const GREEN_WIDE_E = [2.16, 2.29, 7.36, 7.68, 7.98, 8.35, 8.86, 9.56];
const GREEN_WIDE_HW = [0.06, 0.035, 0.1, 0.14, 0.12, 0.22, 0.28, 0.47];
const GREEN_WIDE_COUNTS = [0.031, 0.046, 0.0195, 0.017, 0.0148, 0.0105, 0.0078, 0.0045];
const GREEN_WIDE_UNFOLD = [1.5e-4, 3.6e-4, 2.28e-3, 2.2e-3, 2.35e-3, 2.25e-3, 2.18e-3, 2.08e-3];
const GREEN_WIDE_RESID = [0.05, 1.3, -0.9, -0.6, 0.7, 0.5, 0.45, -0.4];

const BLUE_WIDE_E = [2.08, 2.165, 2.25, 7.24, 7.39, 7.78, 7.97, 8.24, 8.56, 8.98, 9.40, 10.14];
const BLUE_WIDE_HW = [0.04, 0.045, 0.05, 0.07, 0.1, 0.09, 0.11, 0.18, 0.2, 0.21, 0.27, 0.56];
const BLUE_WIDE_COUNTS = [0.0205, 0.023, 0.0282, 0.0166, 0.0091, 0.0116, 0.0065, 0.0056, 0.0057, 0.0033, 0.0035, 0.0015];
const BLUE_WIDE_UNFOLD = [9.5e-5, 1.2e-4, 1.85e-4, 1.78e-3, 1.2e-3, 1.76e-3, 1.15e-3, 1.22e-3, 1.44e-3, 1.03e-3, 1.49e-3, 1.1e-3];
const BLUE_WIDE_RESID = [1.9, 0.8, 1.6, 1.8, -1.6, 2.1, -1.1, -0.7, 1.35, -0.8, 1.6, -0.35];

const CYAN_WIDE_E = [2.15, 7.45, 7.80, 8.17, 8.73, 9.50];
const CYAN_WIDE_HW = [0.07, 0.15, 0.12, 0.2, 0.37, 0.5];
const CYAN_WIDE_COUNTS = [0.024, 0.0152, 0.0145, 0.0152, 0.0082, 0.0052];
const CYAN_WIDE_UNFOLD = [9.5e-5, 1.03e-3, 1.12e-3, 1.49e-3, 1.08e-3, 1.18e-3];
const CYAN_WIDE_RESID = [1.35, -1.4, -0.35, 2.1, -0.7, 0.4];

const MAGENTA_WIDE_E = [2.20, 7.47, 7.77, 8.05, 8.50, 9.14, 10.1];
const MAGENTA_WIDE_HW = [0.045, 0.15, 0.2, 0.12, 0.25, 0.37, 0.71];
const MAGENTA_WIDE_COUNTS = [0.047, 0.0159, 0.0152, 0.0143, 0.0086, 0.0048, 0.0027];
const MAGENTA_WIDE_UNFOLD = [1.2e-4, 1.05e-3, 1.12e-3, 1.1e-3, 1.05e-3, 8.7e-4, 9.8e-4];
const MAGENTA_WIDE_RESID = [2.9, -0.5, 0.65, 0.9, 0.4, -0.85, 0.4];

// ---------------- styles / layout ----------------
const W = 1429;
const H = 1081;
const PLOT_LEFT = 193;
const PLOT_RIGHT = 1420;
const TOP_PANEL = [10, 406];
const MID_PANEL = [406, 748];
const RES_PANEL = [748, 1010];

const SERIF = '"Liberation Serif", "Times New Roman", serif';
const SANS = '"Liberation Sans", Arial, sans-serif';

const COL_BLACK = "#000000";
const COL_RED = "#e8321e";
const COL_GREEN = "#55de1e";
const COL_BLUE = "#2446ff";
const COL_CYAN = "#44eeee";
const COL_MAGENTA = "#e64cf0";

const SERIES = [
  { color: COL_BLACK, e: BLACK_E, counts: BLACK_COUNTS, unfold: BLACK_UNFOLD, resid: BLACK_RESID, e2: BLACK_E2, counts2: BLACK_COUNTS2, unfold2: BLACK_UNFOLD2, resid2: BLACK_RESID2, we: BLACK_WIDE_E, whw: BLACK_WIDE_HW, wcounts: BLACK_WIDE_COUNTS, wunfold: BLACK_WIDE_UNFOLD, wresid: BLACK_WIDE_RESID, mCounts: BLACK_MODEL_COUNTS, mUnfold: BLACK_MODEL_UNFOLD, soft: BLACK_SOFT, hard: BLACK_HARD, err: ERR_BRIGHT, werr: ERR_BRIGHT_WIDE },
  { color: COL_RED, e: RED_E, counts: RED_COUNTS, unfold: RED_UNFOLD, resid: RED_RESID, e2: RED_E2, counts2: RED_COUNTS2, unfold2: RED_UNFOLD2, resid2: RED_RESID2, we: RED_WIDE_E, whw: RED_WIDE_HW, wcounts: RED_WIDE_COUNTS, wunfold: RED_WIDE_UNFOLD, wresid: RED_WIDE_RESID, mCounts: RED_MODEL_COUNTS, mUnfold: RED_MODEL_UNFOLD, soft: RED_SOFT, hard: RED_HARD, err: ERR_BRIGHT, werr: ERR_BRIGHT_WIDE },
  { color: COL_GREEN, e: GREEN_E, counts: GREEN_COUNTS, unfold: GREEN_UNFOLD, resid: GREEN_RESID, e2: GREEN_E2, counts2: GREEN_COUNTS2, unfold2: GREEN_UNFOLD2, resid2: GREEN_RESID2, we: GREEN_WIDE_E, whw: GREEN_WIDE_HW, wcounts: GREEN_WIDE_COUNTS, wunfold: GREEN_WIDE_UNFOLD, wresid: GREEN_WIDE_RESID, mCounts: GREEN_MODEL_COUNTS, mUnfold: GREEN_MODEL_UNFOLD, soft: GREEN_SOFT, hard: GREEN_HARD, err: ERR_BRIGHT, werr: ERR_BRIGHT_WIDE },
  { color: COL_BLUE, e: BLUE_E, counts: BLUE_COUNTS, unfold: BLUE_UNFOLD, resid: BLUE_RESID, e2: BLUE_E2, counts2: BLUE_COUNTS2, unfold2: BLUE_UNFOLD2, resid2: BLUE_RESID2, we: BLUE_WIDE_E, whw: BLUE_WIDE_HW, wcounts: BLUE_WIDE_COUNTS, wunfold: BLUE_WIDE_UNFOLD, wresid: BLUE_WIDE_RESID, mCounts: BLUE_MODEL_COUNTS, mUnfold: BLUE_MODEL_UNFOLD, soft: BLUE_SOFT, hard: BLUE_HARD, err: ERR_FAINT, werr: ERR_FAINT_WIDE },
  { color: COL_CYAN, e: CYAN_E, counts: CYAN_COUNTS, unfold: CYAN_UNFOLD, resid: CYAN_RESID, e2: CYAN_E2, counts2: CYAN_COUNTS2, unfold2: CYAN_UNFOLD2, resid2: CYAN_RESID2, we: CYAN_WIDE_E, whw: CYAN_WIDE_HW, wcounts: CYAN_WIDE_COUNTS, wunfold: CYAN_WIDE_UNFOLD, wresid: CYAN_WIDE_RESID, mCounts: CYAN_MODEL_COUNTS, mUnfold: CYAN_MODEL_UNFOLD, soft: CYAN_SOFT, hard: CYAN_HARD, err: ERR_FAINT, werr: ERR_FAINT_WIDE },
  { color: COL_MAGENTA, e: MAGENTA_E, counts: MAGENTA_COUNTS, unfold: MAGENTA_UNFOLD, resid: MAGENTA_RESID, e2: MAGENTA_E2, counts2: MAGENTA_COUNTS2, unfold2: MAGENTA_UNFOLD2, resid2: MAGENTA_RESID2, we: MAGENTA_WIDE_E, whw: MAGENTA_WIDE_HW, wcounts: MAGENTA_WIDE_COUNTS, wunfold: MAGENTA_WIDE_UNFOLD, wresid: MAGENTA_WIDE_RESID, mCounts: MAGENTA_MODEL_COUNTS, mUnfold: MAGENTA_MODEL_UNFOLD, soft: MAGENTA_SOFT, hard: MAGENTA_HARD, err: ERR_FAINT, werr: ERR_FAINT_WIDE },
];

type Part = { t: string; sup?: boolean };

// ---------------- dataset builders ----------------
function errorPoints(s: any, kind: "counts" | "unfold" | "resid") {
  const pts: any[] = [];
  const push = (e: number, hw: number, v: number, rel: number) => {
    if (e == null || v == null) return;
    if (kind === "resid") {
      pts.push({ x: e, y: v, xMin: e - hw, xMax: e + hw, yMin: v - 1, yMax: v + 1 });
    } else {
      pts.push({ x: e, y: v, xMin: e - hw, xMax: e + hw, yMin: v * (1 - rel), yMax: v * (1 + rel) });
    }
  };
  const main = kind === "counts" ? s.counts : kind === "unfold" ? s.unfold : s.resid;
  const main2 = kind === "counts" ? s.counts2 : kind === "unfold" ? s.unfold2 : s.resid2;
  const wide = kind === "counts" ? s.wcounts : kind === "unfold" ? s.wunfold : s.wresid;
  s.we.forEach((e: number, i: number) => push(e, s.whw[i], wide[i], s.werr));
  s.e.forEach((e: number, i: number) => push(e, MAIN_HW, main[i], s.err));
  s.e2.forEach((e: number, i: number) => push(e, MAIN_HW, main2[i], s.err));
  pts.sort((a, b) => a.x - b.x);
  return pts;
}

function errorDataset(s: any, kind: "counts" | "unfold" | "resid") {
  return {
    data: errorPoints(s, kind),
    borderColor: s.color,
    backgroundColor: s.color,
    showLine: false,
    pointRadius: 0,
    pointHoverRadius: 0,
    errorBars: true,
    errorWidth: 2.5,
  };
}

function modelDatasets(color: string, values: (number | null)[]) {
  const stepped = MODEL_E.map((e, i) => ({ x: e, y: e <= SMOOTH_FROM || e > SMOOTH_TO ? values[i] : null }));
  const smooth = MODEL_E.map((e, i) => ({ x: e, y: e >= SMOOTH_FROM && e <= SMOOTH_TO ? values[i] : null }));
  return [
    { data: stepped, borderColor: color, borderWidth: 2.6, pointRadius: 0, stepped: "before", spanGaps: false, fill: false },
    { data: smooth, borderColor: color, borderWidth: 2.6, pointRadius: 0, cubicInterpolationMode: "monotone", spanGaps: false, fill: false },
  ];
}

function componentDataset(color: string, values: (number | null)[]) {
  return {
    data: COMP_E.map((e, i) => ({ x: e, y: values[i] })),
    borderColor: color,
    borderWidth: 2.6,
    borderDash: [2.5, 6],
    pointRadius: 0,
    cubicInterpolationMode: "monotone",
    spanGaps: false,
    fill: false,
  };
}

// ---------------- plugins ----------------
const errorBarPlugin = {
  id: "errorBars",
  afterDatasetDraw(chart: any, args: any) {
    const ds = chart.data.datasets[args.index];
    if (!ds || !ds.errorBars) return;
    const { ctx, chartArea: a } = chart;
    const xs = chart.scales.x;
    const ys = chart.scales.y;
    ctx.save();
    ctx.beginPath();
    ctx.rect(a.left, a.top, a.right - a.left, a.bottom - a.top);
    ctx.clip();
    ctx.strokeStyle = ds.borderColor;
    ctx.lineWidth = ds.errorWidth;
    ctx.lineCap = "butt";
    ctx.beginPath();
    for (const p of ds.data) {
      const px = xs.getPixelForValue(p.x);
      const py = ys.getPixelForValue(p.y);
      ctx.moveTo(xs.getPixelForValue(p.xMin), py);
      ctx.lineTo(xs.getPixelForValue(p.xMax), py);
      ctx.moveTo(px, ys.getPixelForValue(p.yMin));
      ctx.lineTo(px, ys.getPixelForValue(p.yMax));
    }
    ctx.stroke();
    ctx.restore();
  },
};

function richWidth(ctx: CanvasRenderingContext2D, parts: Part[], size: number) {
  let w = 0;
  for (const p of parts) {
    ctx.font = `${p.sup ? size * 0.62 : size}px ${SERIF}`;
    w += ctx.measureText(p.t).width;
  }
  return w;
}

function drawRich(ctx: CanvasRenderingContext2D, parts: Part[], size: number, cx: number, baseline: number) {
  const w = richWidth(ctx, parts, size);
  let x = cx - w / 2;
  ctx.textAlign = "left";
  ctx.textBaseline = "alphabetic";
  for (const p of parts) {
    const fs = p.sup ? size * 0.62 : size;
    ctx.font = `${fs}px ${SERIF}`;
    ctx.fillText(p.t, x, p.sup ? baseline - size * 0.42 : baseline);
    x += ctx.measureText(p.t).width;
  }
}

function drawRotated(ctx: CanvasRenderingContext2D, parts: Part[], size: number, cx: number, cy: number) {
  ctx.save();
  ctx.translate(cx, cy);
  ctx.rotate(-Math.PI / 2);
  drawRich(ctx, parts, size, 0, size * 0.33);
  ctx.restore();
}

function makeAxesPlugin(cfg: any) {
  return {
    id: "panelAxes",
    afterDraw(chart: any) {
      const { ctx, chartArea: a } = chart;
      const xs = chart.scales.x;
      const ys = chart.scales.y;
      ctx.save();
      ctx.strokeStyle = "#000";
      ctx.lineWidth = 2;
      ctx.beginPath();
      const seg = (x1: number, y1: number, x2: number, y2: number) => {
        ctx.moveTo(x1, y1);
        ctx.lineTo(x2, y2);
      };
      for (const v of X_TICKS_MINOR) {
        const px = xs.getPixelForValue(v);
        seg(px, a.top, px, a.top + 12);
        seg(px, a.bottom, px, a.bottom - 12);
      }
      for (const v of X_TICKS_MAJOR) {
        const px = xs.getPixelForValue(v);
        seg(px, a.top, px, a.top + 19);
        seg(px, a.bottom, px, a.bottom - 19);
      }
      for (const v of cfg.yMinor) {
        const py = ys.getPixelForValue(v);
        if (py < a.top || py > a.bottom) continue;
        seg(a.left, py, a.left + 8, py);
        seg(a.right, py, a.right - 8, py);
      }
      for (const v of cfg.yMajor) {
        const py = ys.getPixelForValue(v);
        if (py < a.top - 1 || py > a.bottom + 1) continue;
        seg(a.left, py, a.left + 14, py);
        seg(a.right, py, a.right - 14, py);
      }
      ctx.stroke();
      ctx.lineWidth = 3;
      ctx.strokeRect(a.left, a.top, a.right - a.left, a.bottom - a.top);

      ctx.fillStyle = "#000";
      for (const lab of cfg.yLabels) {
        const py = ys.getPixelForValue(lab.v);
        drawRotated(ctx, lab.parts, 26, 168, py);
      }
      for (const t of cfg.titles) {
        drawRotated(ctx, t.parts, t.size, t.x, t.cy);
      }
      if (cfg.xLabels) {
        for (const v of X_TICK_LABELS) {
          const px = xs.getPixelForValue(v);
          drawRich(ctx, [{ t: String(v) }], 27, px, 1042);
        }
        drawRich(ctx, [{ t: "Energy (keV)" }], 28, 794, 1074);
      }
      if (cfg.annotate) {
        ctx.textAlign = "left";
        ctx.textBaseline = "alphabetic";
        ctx.fillStyle = "#cc2200";
        ctx.font = `italic bold 51px ${SANS}`;
        ctx.fillText("XMM-Newton", 290, 338);
        ctx.fillStyle = "#000";
        ctx.font = `42px ${SANS}`;
        ctx.fillText("(up to 12 keV)", 622, 338);
      }
      ctx.restore();
    },
  };
}

function baseOptions(panel: number[], yType: string, yMin: number, yMax: number) {
  return {
    responsive: false,
    animation: false,
    events: [],
    layout: { padding: { left: PLOT_LEFT, right: W - PLOT_RIGHT, top: panel[0], bottom: H - panel[1] } },
    scales: {
      x: { type: "logarithmic", min: X_MIN, max: X_MAX, display: false, bounds: "data" },
      y: { type: yType, min: yMin, max: yMax, display: false, bounds: "data" },
    },
    plugins: { legend: { display: false }, tooltip: { enabled: false }, title: { display: false } },
  };
}

const SUP = (t: string): Part => ({ t, sup: true });

function topConfig(): any {
  const order: any[] = [];
  SERIES.forEach((s) => order.push(errorDataset(s, "counts")));
  SERIES.forEach((s) => order.push(...modelDatasets(s.color, s.mCounts)));
  return {
    type: "line",
    data: { datasets: order.reverse() },
    options: baseOptions(TOP_PANEL, "logarithmic", TOP_Y_MIN, TOP_Y_MAX),
    plugins: [
      errorBarPlugin,
      makeAxesPlugin({
        yMajor: TOP_Y_MAJOR,
        yMinor: TOP_Y_MINOR,
        yLabels: [
          { v: 0.1, parts: [{ t: "0.1" }] },
          { v: 0.01, parts: [{ t: "0.01" }] },
        ],
        titles: [{ x: 45, cy: 240, size: 28, parts: [{ t: "Normalized counts s" }, SUP("−1"), { t: " keV" }, SUP("−1")] }],
        annotate: true,
      }),
    ],
  };
}

function midConfig(): any {
  const order: any[] = [];
  SERIES.forEach((s) => {
    order.push(componentDataset(s.color, s.soft));
    order.push(componentDataset(s.color, s.hard));
  });
  SERIES.forEach((s) => order.push(errorDataset(s, "unfold")));
  SERIES.forEach((s) => order.push(...modelDatasets(s.color, s.mUnfold)));
  return {
    type: "line",
    data: { datasets: order.reverse() },
    options: baseOptions(MID_PANEL, "logarithmic", MID_Y_MIN, MID_Y_MAX),
    plugins: [
      errorBarPlugin,
      makeAxesPlugin({
        yMajor: MID_Y_MAJOR,
        yMinor: MID_Y_MINOR,
        yLabels: [
          { v: 0.01, parts: [{ t: "0.01" }] },
          { v: 1e-3, parts: [{ t: "10" }, SUP("−3")] },
          { v: 1e-4, parts: [{ t: "10" }, SUP("−4")] },
        ],
        titles: [
          { x: 45, cy: 588, size: 28, parts: [{ t: "keV" }, SUP("2")] },
          { x: 81, cy: 592, size: 28, parts: [{ t: "(Ph cm" }, SUP("−2"), { t: " s" }, SUP("−1"), { t: " keV" }, SUP("−1"), { t: ")" }] },
        ],
      }),
    ],
  };
}

function resConfig(): any {
  const order: any[] = [];
  SERIES.forEach((s) => order.push(errorDataset(s, "resid")));
  order.push({
    data: [{ x: X_MIN, y: 0 }, { x: X_MAX, y: 0 }],
    borderColor: COL_GREEN,
    borderWidth: 3,
    pointRadius: 0,
    fill: false,
  });
  return {
    type: "line",
    data: { datasets: order.reverse() },
    options: baseOptions(RES_PANEL, "linear", RES_Y_MIN, RES_Y_MAX),
    plugins: [
      errorBarPlugin,
      makeAxesPlugin({
        yMajor: RES_Y_MAJOR,
        yMinor: RES_Y_MINOR,
        yLabels: [
          { v: 4, parts: [{ t: "4" }] },
          { v: 2, parts: [{ t: "2" }] },
          { v: 0, parts: [{ t: "0" }] },
          { v: -2, parts: [{ t: "−2" }] },
          { v: -4, parts: [{ t: "−4" }] },
        ],
        titles: [
          { x: 45, cy: 890, size: 28, parts: [{ t: "Residuals" }] },
          { x: 79, cy: 885, size: 28, parts: [{ t: "(sigma)" }] },
        ],
        xLabels: true,
      }),
    ],
  };
}

export default function App() {
  const topRef = useRef<HTMLCanvasElement>(null);
  const midRef = useRef<HTMLCanvasElement>(null);
  const resRef = useRef<HTMLCanvasElement>(null);

  useEffect(() => {
    document.body.style.margin = "0";
    const charts = [
      new Chart(resRef.current as HTMLCanvasElement, resConfig()),
      new Chart(midRef.current as HTMLCanvasElement, midConfig()),
      new Chart(topRef.current as HTMLCanvasElement, topConfig()),
    ];
    return () => charts.forEach((c) => c.destroy());
  }, []);

  const canvasStyle: React.CSSProperties = { position: "absolute", left: 0, top: 0, width: W, height: H };
  return (
    <div style={{ position: "absolute", left: 0, top: 0, width: W, height: H, background: "#ffffff", overflow: "hidden" }}>
      <canvas ref={resRef} width={W} height={H} style={canvasStyle} />
      <canvas ref={midRef} width={W} height={H} style={canvasStyle} />
      <canvas ref={topRef} width={W} height={H} style={canvasStyle} />
      <div style={{ position: "absolute", left: 0, top: 0, width: W, height: 3, background: "#000" }} />
      <div style={{ position: "absolute", left: 0, top: 0, width: 3, height: H, background: "#000" }} />
    </div>
  );
}
